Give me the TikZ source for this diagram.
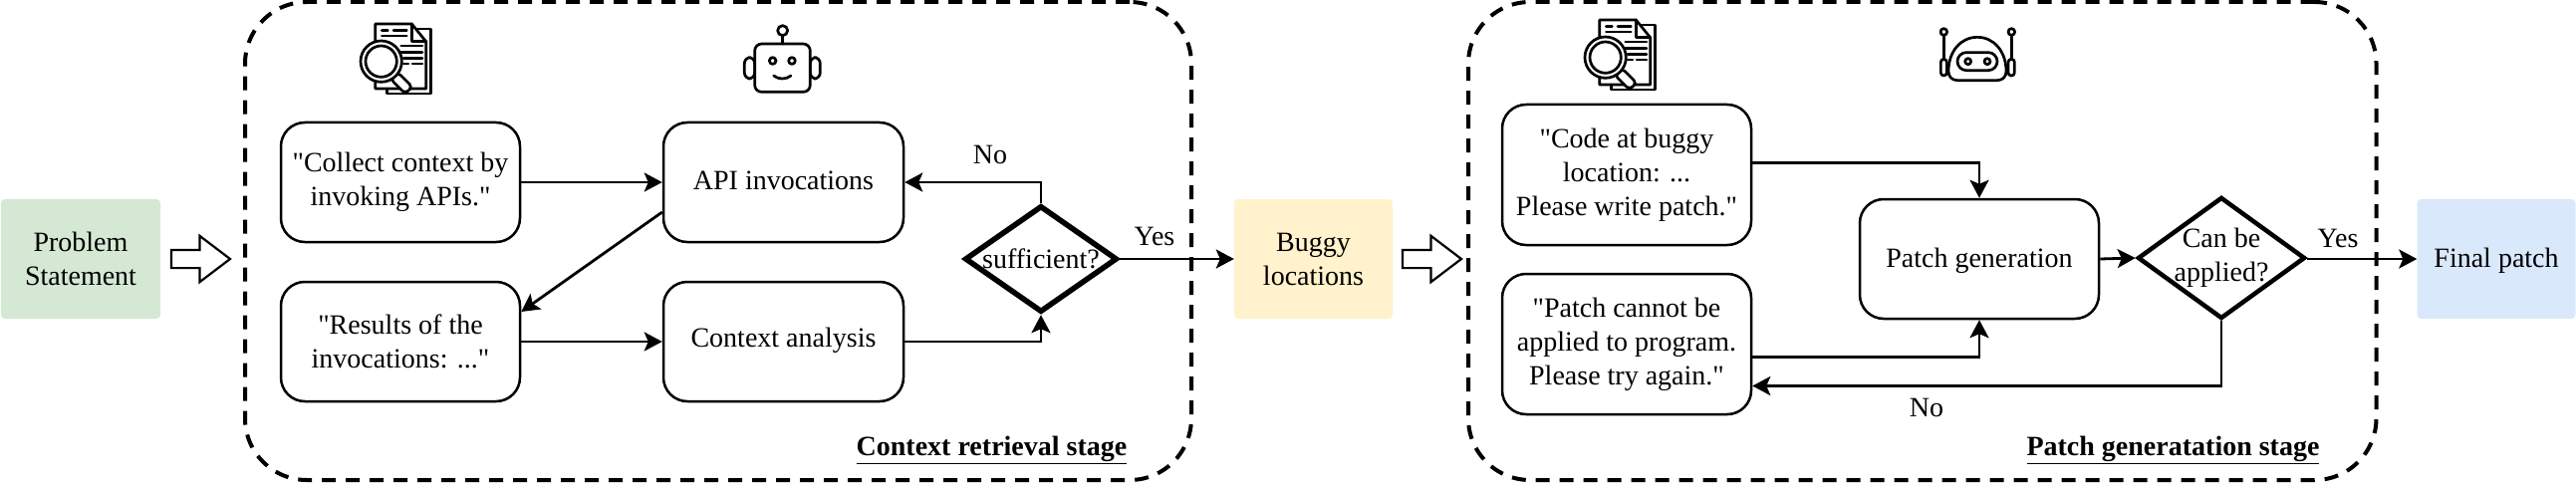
\documentclass[tikz,border=0pt]{standalone}
\usepackage{fontspec}
\setmainfont{Liberation Serif}
\newfontfamily\plainserif{Liberation Serif}
\usetikzlibrary{arrows.meta,shapes.geometric,shapes.arrows,calc}
\definecolor{probfill}{HTML}{D5E8D4}
\definecolor{buggyfill}{HTML}{FFF2CC}
\definecolor{finalfill}{HTML}{DAE8FC}
\tikzset{
  txt/.style={font=\plainserif\fontsize{28}{34}\selectfont,align=center},
  proc/.style={draw=black,line width=2.5pt,rounded corners=24pt,minimum width=240pt,minimum height=120pt,inner sep=0pt,txt},
  tall/.style={draw=black,line width=2.5pt,rounded corners=24pt,minimum width=250pt,minimum height=141pt,inner sep=0pt,txt},
  flat/.style={fill=#1,rounded corners=4pt,minimum height=120pt,inner sep=0pt,txt},
  stage/.style={draw=black,line width=4pt,dash pattern=on 14pt off 10pt,rounded corners=62pt},
  conn/.style={draw=black,line width=2.8pt,-{Stealth[length=18pt,width=19pt,inset=4pt]}},
  decision/.style={draw=black,diamond,inner sep=0pt,line width=#1,txt},
  blockarrow/.style={draw=black,fill=white,line width=2.2pt,single arrow,inner ysep=8pt,inner xsep=0pt,outer sep=0pt,
    minimum height=59pt,single arrow head extend=14pt,single arrow tip angle=74.4,anchor=tip},
  captxt/.style={font=\plainserif\fontsize{28}{34}\selectfont\bfseries,inner sep=0pt},
  word/.style={txt,inner sep=0pt},
  ico/.style={line width=2.7pt,line join=round,line cap=round},
  pics/docicon/.style={code={
    \draw[ico] (262,57) -- (307,57) -- (307,252) -- (175,252) -- (175,236);
    \draw[ico,fill=white] (140,42) -- (250,42) -- (293,95) -- (293,237) -- (140,237) -- cycle;
    \draw[ico] (250,42) -- (250,95) -- (293,95);
    \draw[ico] (160,62) -- (178,62) (195,62) -- (235,62) (160,78) -- (235,78);
    \draw[ico] (218,108) -- (282,108) (218,127) -- (282,127) (225,145) -- (282,145)
               (225,162) -- (240,162) (252,162) -- (282,162);
    \draw[ico,fill=white,rounded corners=4pt] (186,208) -- (208,188) -- (252,232) -- (230,252) -- cycle;
    \draw[ico,fill=white] (158,155) circle (62);
    \draw[ico] (158,155) circle (47);
  }},
  pics/botone/.style={code={
    \draw[ico,rounded corners=6pt] (52,143) rectangle (83,207);
    \draw[ico,rounded corners=6pt] (250,143) rectangle (280,207);
    \draw[ico,rounded corners=7pt,fill=white] (83,102) rectangle (250,247);
    \draw[ico] (167,78) -- (167,102);
    \draw[ico] (167,62) circle (15);
    \draw[ico] (137,153) circle (10);
    \draw[ico] (195,153) circle (10);
    \draw[ico] (140,198) .. controls (155,210) and (177,210) .. (192,198);
  }},
  pics/bottwo/.style={code={
    \draw[ico] (64,80) -- (64,148) (268,80) -- (268,148);
    \draw[ico] (64,66) circle (10);
    \draw[ico] (268,66) circle (10);
    \draw[ico,rounded corners=3pt] (55,148) rectangle (73,198);
    \draw[ico,rounded corners=3pt] (258,148) rectangle (277,198);
    \draw[ico,fill=white] (105,212) .. controls (88,212) and (78,200) .. (78,185)
       .. controls (78,125) and (115,82) .. (165,82)
       .. controls (215,82) and (252,125) .. (252,185)
       .. controls (252,200) and (242,212) .. (225,212) -- cycle;
    \draw[ico,rounded corners=9pt] (105,128) rectangle (225,182);
    \draw[ico] (137,155) circle (9);
    \draw[ico] (195,155) circle (9);
  }}
}
\begin{document}
\begin{tikzpicture}[x=1pt,y=-1pt]
\useasboundingbox (0,0) rectangle (2586,492);
% stage frames
\node[stage,minimum width=950pt,minimum height=480pt] (stageA) at (721,242) {};
\node[stage,minimum width=911.5pt,minimum height=480pt] (stageB) at (1929.75,242) {};
% terminals
\node[flat=probfill,minimum width=160pt] (problem) at (81,260) {Problem\\Statement};
\node[flat=buggyfill,minimum width=159pt] (buggy) at (1318.5,260) {Buggy\\locations};
\node[flat=finalfill,minimum width=159pt,label={[txt,yshift=-1.5pt]center:Final patch}] (final) at (2506,260) {};
% block arrows
\node[blockarrow] (blockA) at (231,260) {};
\node[blockarrow] (blockB) at (1467,260) {};
% first stage
\node[proc] (collect) at (402,183) {"Collect context by\\invoking APIs."};
\node[proc,minimum width=241pt,label={[txt,yshift=1.5pt]center:API invocations}] (api) at (786.5,183) {};
\node[proc] (results) at (402,343) {"Results of the\\invocations: ..."};
\node[proc,minimum width=241pt,label={[txt,yshift=1pt]center:Context analysis}] (analysis) at (786.5,343) {};
\node[decision=5.5pt,minimum width=153pt,minimum height=107pt,label={[txt]center:sufficient?}] (suff) at (1045,260) {};
% second stage
\node[tall] (code) at (1633,175.5) {"Code at buggy\\location: ...\\Please write patch."};
\node[tall] (retry) at (1633,345.5) {"Patch cannot be\\applied to program.\\Please try again."};
\node[proc,label={[txt,yshift=-1.5pt]center:Patch generation}] (gen) at (1987,260) {};
\node[decision=4.5pt,minimum width=168pt,minimum height=122pt,label={[txt,align=center]center:Can be\\applied?}] (apply) at (2230,259) {};
% connectors
\draw[conn] (collect.east) -- (api.west);
\draw[conn] ($(api.west)+(0,30)$) -- ($(results.east)+(0,-30)$);
\draw[conn] (results.east) -- (analysis.west);
\draw[conn] (analysis.east) -| (suff.south);
\draw[conn] (suff.north) |- (api.east);
\draw[conn] (suff.east) -- (buggy.west);
\draw[conn] ($(code.east)+(0,-12)$) -| (gen.north);
\draw[conn] ($(retry.east)+(0,13)$) -| (gen.south);
\draw[conn] (gen.east) -- (apply.west);
\draw[conn] (apply.east |- gen.east) -- (final.west);
\draw[conn] (apply.south) |- ($(retry.east)+(0,42)$);
% branch labels
\node[word] (noA) at (994,155) {No};
\node[word] (yesA) at (1159,237) {Yes};
\node[word] (noB) at (1934,409) {No};
\node[word] (yesB) at (2347,239) {Yes};
% stage captions
\node[captxt] (capA) at (995.5,452) {\underline{Context retrieval stage}};
\node[captxt] (capB) at (2181.5,452) {\underline{Patch generatation stage}};
% icons
\begin{scope}[shift={(330,10)},x=0.3333pt,y=-0.3333pt] \pic {docicon}; \end{scope}
\begin{scope}[shift={(1559,6)},x=0.3333pt,y=-0.3333pt] \pic {docicon}; \end{scope}
\begin{scope}[shift={(730,10)},x=0.3333pt,y=-0.3333pt] \pic {botone}; \end{scope}
\begin{scope}[shift={(1930,10)},x=0.3333pt,y=-0.3333pt] \pic {bottwo}; \end{scope}
\end{tikzpicture}
\end{document}
